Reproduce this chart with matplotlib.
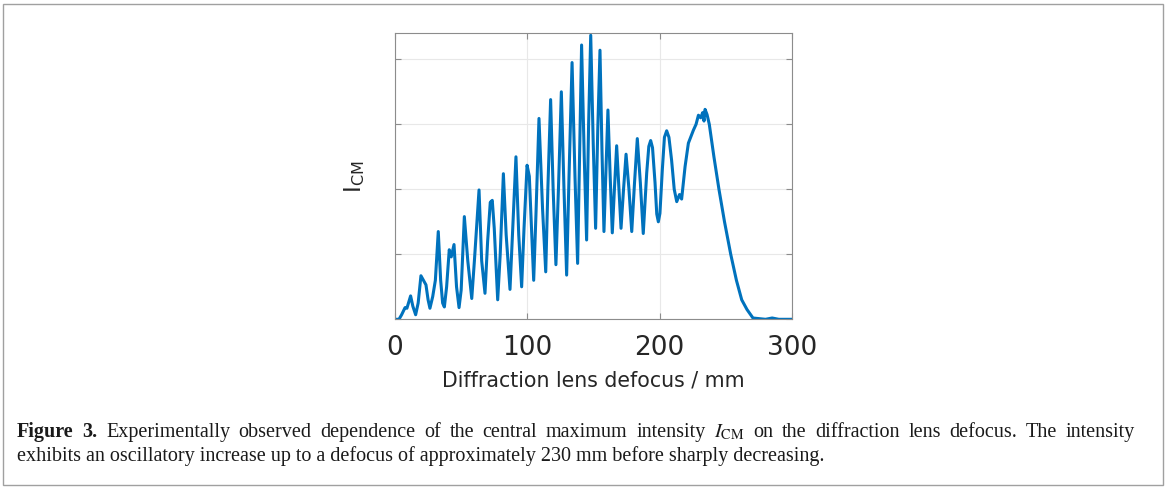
import matplotlib
matplotlib.use('Agg')
import matplotlib.pyplot as plt
from matplotlib.patches import Rectangle

# central maximum intensity vs defocus (arbitrary units)
defocus_mm = [0, 3, 5, 7.6, 9, 11.8, 13.5, 15.6, 17.5, 19.6, 21.5, 23.4, 25, 26.4,
              28.5, 30.5, 32.7, 34.5, 36, 37.3, 39, 41, 42.5, 44.6, 46.5, 48.4, 50,
              52.4, 55, 58, 60, 63.5, 65.5, 68, 70, 72, 73.5, 75, 77.6, 79.5, 81.9,
              84, 86.9, 89, 91.4, 93.5, 95.7, 97.5, 99.8, 101.5, 104.8, 106.5, 108.8,
              111.5, 113.9, 115.5, 117.6, 119.5, 121.6, 123.5, 125.7, 127.7, 129.7,
              131.5, 133.8, 136, 138, 139.5, 141, 143, 144.8, 146.3, 147.9, 149.8,
              151.6, 153.2, 154.9, 156.4, 157.9, 159.4, 160.9, 162.6, 164.2, 165.8,
              167.5, 169.2, 170.8, 172.7, 174.6, 176.8, 178.9, 181, 183.1, 185.4,
              187.6, 190.2, 191.8, 193.2, 194.6, 196.5, 197.8, 199, 200.2, 202,
              203.6, 205.3, 207, 209, 211, 212.9, 215,
              216.6, 219.2, 221.7, 225.5, 227.5, 229.3, 231, 232.5, 233.5, 234.3,
              235.8, 237.5, 241, 244.8, 249, 253.7, 258, 262, 266, 270.5,
              280, 285, 290, 300]
intensity = [0.0, 0.0, 0.07, 0.18, 0.17, 0.36, 0.2, 0.07, 0.25, 0.67, 0.6, 0.53, 0.3, 0.17,
             0.35, 0.6, 1.35, 0.6, 0.25, 0.19, 0.5, 1.07, 0.96, 1.15, 0.5, 0.18, 0.45,
             1.58, 0.9, 0.32, 0.9, 1.99, 0.9, 0.40, 1.2, 1.8, 1.83, 1.4, 0.30, 1.0, 2.24,
             1.3, 0.46, 1.4, 2.50, 1.3, 0.50, 1.4, 2.37, 2.2, 0.60, 1.6, 3.09,
             1.7, 0.73, 2.0, 3.38, 2.0, 0.84, 2.0, 3.50, 2.0, 0.68,
             2.2, 3.95, 2.2, 0.86, 2.5, 4.22, 2.5, 1.22, 3.0, 4.37, 2.7,
             1.40, 2.9, 4.14, 2.6, 1.35, 2.3, 3.22, 2.2, 1.33, 2.0,
             2.67, 2.0, 1.40, 2.0, 2.54, 2.0, 1.35, 2.1, 2.78, 2.1,
             1.32, 2.25, 2.66, 2.75, 2.64, 2.1, 1.62, 1.50, 1.63, 2.3,
             2.80, 2.90, 2.80, 2.45, 2.0, 1.81, 1.92,
             1.85, 2.35, 2.71, 2.91, 3.0, 3.14, 3.10, 3.18, 3.05, 3.23,
             3.15, 3.0, 2.5, 2.0, 1.5, 1.0, 0.6, 0.3, 0.15, 0.02,
             0.0, 0.02, 0.0, 0.0]

xticks = [0, 100, 200, 300]
yticks = [0, 1, 2, 3, 4]

caption_bold = ['Figure', '3.']
caption_1 = ('Experimentally observed dependence of the central maximum intensity '
             r'$I_{\mathrm{CM}}$ on the diffraction lens defocus. The intensity')
caption_2 = ('exhibits an oscillatory increase up to a defocus of approximately 230 mm '
             'before sharply decreasing.')

plt.rcParams['mathtext.fontset'] = 'stix'

W, H = 1168, 488
fig = plt.figure(figsize=(W / 100, H / 100), dpi=100)
fig.patches.append(Rectangle((3 / W, 3 / H), 1160 / W, 481 / H, transform=fig.transFigure,
                             fill=False, edgecolor='#a0a0a0', lw=1.0))

ax = fig.add_axes([395 / W, 1 - 319.3 / H, 397 / W, 286 / H])
ax.plot(defocus_mm, intensity, color='#0072BD', lw=2.2)
ax.set_xlim(0, 300)
ax.set_ylim(0, 4.4)
ax.set_xticks(xticks)
ax.set_yticks(yticks)
ax.set_yticklabels([])
ax.grid(True, color='#e8e8e8', lw=0.8)
ax.set_axisbelow(True)
ax.tick_params(direction='in', top=True, right=True, length=4, width=0.8,
               color='#8c8c8c', labelcolor='#262626', labelsize=19, pad=11)
for s in ax.spines.values():
    s.set_color('#8c8c8c')
    s.set_linewidth(0.8)
ax.set_xlabel('Diffraction lens defocus / mm', fontsize=14.8, color='#262626', labelpad=7)
ax.set_ylabel(r'I$_\mathregular{CM}$', fontsize=16.5, color='#262626', labelpad=10)

# caption: first line justified between left and right margin, second line flush left
fs = 14.5
x_left, x_right = 17, 1135
renderer = fig.canvas.get_renderer()
words = [(w, 'bold') for w in caption_bold]
words += [(w, 'normal') for w in caption_1.replace('$I_{\\mathrm{CM}}$', '\0').split(' ')]
words = [(w.replace('\0', r'$I_{\mathrm{CM}}$'), fw) for w, fw in words]
texts = []
for w, fw in words:
    tx = fig.text(0, 1 - 437 / H, w, fontsize=fs, fontweight=fw,
                  family='Liberation Serif', va='baseline', color='#1a1a1a')
    texts.append(tx)
widths = [tx.get_window_extent(renderer).width for tx in texts]
gap = (x_right - x_left - sum(widths)) / (len(texts) - 1)
xpos = x_left
for tx, wd in zip(texts, widths):
    tx.set_x(xpos / W)
    xpos += wd + gap
fig.text(x_left / W, 1 - 461 / H, caption_2, fontsize=fs,
         family='Liberation Serif', va='baseline', color='#1a1a1a')

fig.savefig('out.png', dpi=100)
